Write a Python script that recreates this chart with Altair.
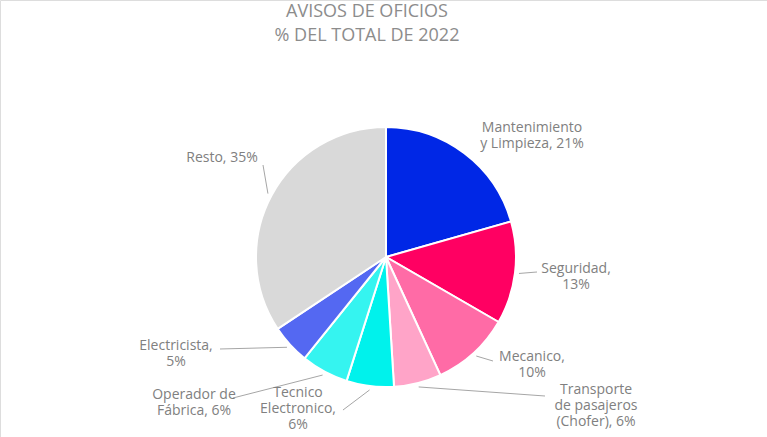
import altair as alt
import pandas as pd

# ---- data ----
categories = ["Mantenimiento y Limpieza", "Seguridad", "Mecanico",
              "Transporte de pasajeros (Chofer)", "Tecnico Electronico",
              "Operador de Fábrica", "Electricista", "Resto"]
values = [21, 13, 10, 6, 6, 6, 5, 35]
labels = ["Mantenimiento\ny Limpieza, 21%", "Seguridad,\n13%", "Mecanico,\n10%",
          "Transporte\nde pasajeros\n(Chofer), 6%", "Tecnico\nElectronico,\n6%",
          "Operador de\nFábrica, 6%", "Electricista,\n5%", "Resto, 35%"]
title_lines = ["AVISOS DE OFICIOS", "% DEL TOTAL DE 2022"]

# ---- styling / layout ----
colors = ["#0027E6", "#FF0062", "#FF6BA6", "#FFA4C8", "#00F2EC", "#35F4F0", "#5468F2", "#D9D9D9"]
CX, CY, R = 386, 257, 130
label_x = [532, 576, 532, 596, 298, 194, 176, 222]
label_y = [128, 269, 357, 390, 393, 395, 346, 158]
leader_end_x = [None, 537, 493, 545, 343, 233, 220, 263]
leader_end_y = [None, 272, 361, 396, 410, 398, 349, 165]

df = pd.DataFrame({
    "category": categories, "value": values, "label": labels,
    "idx": list(range(len(categories))),
    "lx": label_x, "ly": label_y, "ex": leader_end_x, "ey": leader_end_y,
})

base = alt.Chart(df)

pie = base.mark_arc(radius=R, stroke="white", strokeWidth=2).encode(
    theta=alt.Theta("value:Q", stack=True),
    color=alt.Color("category:N", scale=alt.Scale(domain=categories, range=colors), legend=None),
    order=alt.Order("idx:Q"),
    x=alt.value(CX), y=alt.value(CY),
)

leaders = base.transform_joinaggregate(total="sum(value)").transform_window(
    cum="sum(value)", sort=[alt.SortField("idx")], frame=[None, 0]
).transform_calculate(
    mid="2*PI*(datum.cum - datum.value/2)/datum.total"
).transform_calculate(
    x0=f"{CX} + 134*sin(datum.mid)", y0=f"{CY} - 134*cos(datum.mid)"
).transform_filter("isValid(datum.ex)").mark_rule(color="#A6A6A6", strokeWidth=1).encode(
    x=alt.X("x0:Q", scale=None, axis=None), y=alt.Y("y0:Q", scale=None, axis=None),
    x2="ex:Q", y2="ey:Q",
)

texts = base.mark_text(lineBreak="\n", align="center", baseline="middle",
                       font="Open Sans", fontSize=14, color="#808080", lineHeight=16).encode(
    x=alt.X("lx:Q", scale=None, axis=None), y=alt.Y("ly:Q", scale=None, axis=None),
    text="label:N",
)

title_df = pd.DataFrame({"t": title_lines, "i": [0, 1]})
title = alt.Chart(title_df).transform_calculate(
    ty="12 + datum.i*24"
).mark_text(font="Open Sans", fontSize=18, fontWeight=500, color="#8C8C8C",
            align="center", baseline="middle").encode(
    x=alt.value(367), y=alt.Y("ty:Q", scale=None, axis=None), text="t:N",
)

chart = alt.layer(pie, leaders, texts, title).properties(
    width=767, height=437, autosize=alt.AutoSizeParams(type="none"), padding=0,
).configure_view(stroke=None).configure(background="white")

chart.save("out.html", embed_options={"renderer": "svg", "actions": False})
